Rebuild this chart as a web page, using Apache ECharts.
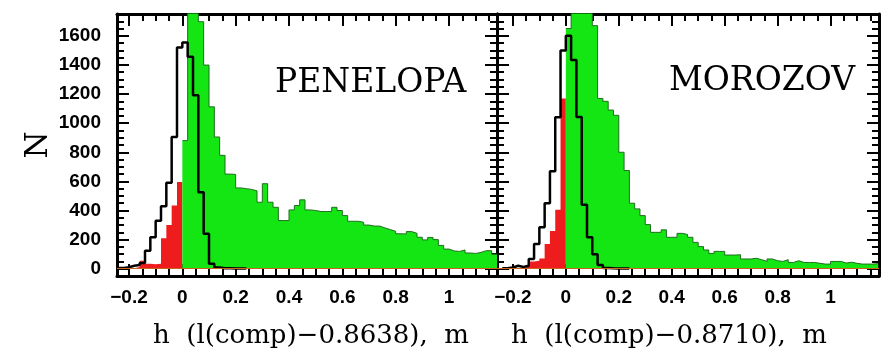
<!DOCTYPE html>
<html>
<head>
<meta charset="utf-8">
<script src="https://cdn.jsdelivr.net/npm/echarts@6/dist/echarts.min.js"></script>
<style>
  html, body { margin: 0; padding: 0; background: #fff; }
  #chart { width: 882px; height: 360px; }
</style>
</head>
<body>
<div id="chart"></div>
<script>
// histogram bins, 0.02 wide; arrays hold the counts of consecutive bins
var binWidth = 0.02;

// PENELOPA
var penBlackStart = -0.24;
var penBlack = [5, 10, 20, 25, 40, 124, 216, 330, 430, 590, 905, 1520,
  1555, 1456, 1192, 526, 240, 34, 8, 4, 3, 2, 2, 1];
var penRedStart = -0.24;
var penRed = [0, 0, 3, 12, 55, 34, 30, 34, 210, 300, 434, 595];
var penGreenStart = 0;
var penGreen = [880, 1900, 1900, 1697, 1399, 1112, 905, 779, 650, 648,
  555, 550, 545, 535, 457, 584, 457, 422, 331, 331,
  404, 434, 473, 404, 400, 393, 393, 393, 422, 400,
  365, 326, 326, 319, 300, 293, 293, 280, 269, 257,
  240, 239, 255, 243, 216, 198, 215, 200, 160, 135,
  122, 119, 129, 108, 105, 112, 124, 124, 100];

// MOROZOV
var morBlackStart = -0.24;
var morBlack = [3, 8, 20, 12, 20, 67, 170, 285, 450, 670, 1040, 1500,
  1600, 1434, 1043, 440, 216, 100, 25, 5, 3, 2, 2, 1];
var morRedStart = -0.24;
var morRed = [0, 0, 0, 3, 15, 50, 55, 70, 170, 260, 405, 1170];
var morGreenStart = 0;
var morGreen = [1650, 1900, 1900, 1900, 1900, 1670, 1170, 1150, 1090, 1054,
  800, 675, 450, 411, 365, 303, 250, 250, 267, 216,
  216, 243, 235, 216, 181, 152, 129, 105, 119, 119,
  94, 94, 96, 67, 67, 72, 62, 50, 67, 55,
  50, 62, 43, 55, 43, 43, 43, 37, 32, 32,
  50, 50, 39, 45, 37, 32, 32, 32, 35];

// axis ticks and labels
var xMajor = [-0.2, 0, 0.2, 0.4, 0.6, 0.8, 1.0];
var xLabels = [-0.2, 0, 0.2, 0.4, 0.6, 0.8, 1];
var yMajor = [0, 200, 400, 600, 800, 1000, 1200, 1400, 1600];
var xMinorStep = 0.05;
var yMinorStep = 50;

var panels = [
  { name: 'PENELOPA', xName: 'h  (l(comp)\u22120.8638),  m', xMin: -0.245, xMax: 1.18,
    black: [penBlackStart, penBlack], red: [penRedStart, penRed], green: [penGreenStart, penGreen] },
  { name: 'MOROZOV', xName: 'h  (l(comp)\u22120.8710),  m', xMin: -0.26, xMax: 1.183,
    black: [morBlackStart, morBlack], red: [morRedStart, morRed], green: [morGreenStart, morGreen] }
];

function steps(start, vals) {
  var pts = [];
  for (var i = 0; i < vals.length; i++) {
    pts.push([+(start + i * binWidth).toFixed(4), vals[i]]);
  }
  pts.push([+(start + vals.length * binWidth).toFixed(4), vals[vals.length - 1]]);
  return pts;
}

function range(a, b, s) {
  var out = [];
  for (var v = a; v <= b + 1e-9; v += s) out.push(+v.toFixed(4));
  return out;
}

var xMinor = range(-0.2, 1.15, xMinorStep);
var yMinor = range(0, 1700, yMinorStep);

var sans = 'Liberation Sans';
var serif = 'DejaVu Serif';

var grids = [
  { left: 117, right: 385, top: 14, bottom: 84 },
  { left: 497, right: 3, top: 14, bottom: 84 }
];

var xAxes = [], yAxes = [], series = [];

panels.forEach(function (p, g) {
  ['bottom', 'top'].forEach(function (pos) {
    [true, false].forEach(function (major) {
      var ax = {
        type: 'value', gridIndex: g, position: pos, min: p.xMin, max: p.xMax,
        splitLine: { show: false },
        axisLine: { show: major, onZero: false, lineStyle: { color: '#000', width: 3 } },
        axisTick: { show: true, inside: true, length: major ? 12 : 7,
          customValues: major ? xMajor : xMinor, lineStyle: { color: '#000', width: 2 } },
        axisLabel: { show: false }
      };
      if (pos === 'bottom' && major) {
        ax.axisLabel = {
          show: true, customValues: xLabels, margin: 12, fontSize: 19,
          fontFamily: sans, fontWeight: 'bold', color: '#000',
          formatter: function (v) { return String(Math.round(v * 10) / 10).replace('-', '\u2212'); }
        };
        ax.name = p.xName;
        ax.nameLocation = 'middle';
        ax.nameGap = 47;
        ax.nameTextStyle = { fontFamily: serif, fontSize: 26, color: '#000',
          padding: g === 1 ? [0, 38, 0, 0] : [0, 0, 0, 8] };
      }
      xAxes.push(ax);
    });
  });
  ['left', 'right'].forEach(function (pos) {
    [true, false].forEach(function (major) {
      var ax = {
        type: 'value', gridIndex: g, position: pos, min: -50, max: 1750,
        splitLine: { show: false },
        axisLine: { show: major, onZero: false, lineStyle: { color: '#000', width: 3 } },
        axisTick: { show: true, inside: true, length: major ? 12 : 7,
          customValues: major ? yMajor : yMinor, lineStyle: { color: '#000', width: 2 } },
        axisLabel: { show: false }
      };
      if (g === 0 && pos === 'left' && major) {
        ax.axisLabel = { show: true, customValues: yMajor, margin: 16, fontSize: 19,
          fontFamily: sans, fontWeight: 'bold', color: '#000',
          formatter: function (v) { return String(v); } };
        ax.name = 'N';
        ax.nameLocation = 'middle';
        ax.nameGap = 55;
        ax.nameRotate = 90;
        ax.nameTextStyle = { fontFamily: serif, fontSize: 31, color: '#000' };
      }
      yAxes.push(ax);
    });
  });

  var xi = g * 4, yi = g * 4;
  series.push({
    type: 'line', step: 'end', xAxisIndex: xi, yAxisIndex: yi, symbol: 'none',
    data: steps(p.red[0], p.red[1]),
    lineStyle: { width: 0 }, areaStyle: { color: '#ee1c1c', opacity: 1 }, z: 2
  });
  series.push({
    type: 'line', step: 'end', xAxisIndex: xi, yAxisIndex: yi, symbol: 'none',
    data: steps(p.green[0], p.green[1]),
    lineStyle: { width: 1, color: '#1f6e1f' }, areaStyle: { color: '#14e614', opacity: 1 }, z: 2,
    markLine: { silent: true, symbol: 'none', label: { show: false },
      lineStyle: { color: '#c8641e', width: 1, type: 'solid' }, data: [{ yAxis: 0 }] }
  });
  series.push({
    type: 'line', step: 'end', xAxisIndex: xi, yAxisIndex: yi, symbol: 'none',
    data: steps(p.black[0], p.black[1]),
    lineStyle: { width: 2.5, color: '#000' }, z: 3
  });
});

var chart = echarts.init(document.getElementById('chart'), null, { renderer: 'canvas' });
chart.setOption({
  animation: false,
  backgroundColor: '#fff',
  title: [
    { text: 'PENELOPA', left: 275, top: 67, padding: 0,
      textStyle: { fontFamily: serif, fontSize: 33, fontWeight: 'normal', color: '#000' } },
    { text: 'MOROZOV', left: 669, top: 65, padding: 0,
      textStyle: { fontFamily: serif, fontSize: 33, fontWeight: 'normal', color: '#000' } }
  ],
  grid: grids,
  xAxis: xAxes,
  yAxis: yAxes,
  series: series
});
</script>
</body>
</html>
